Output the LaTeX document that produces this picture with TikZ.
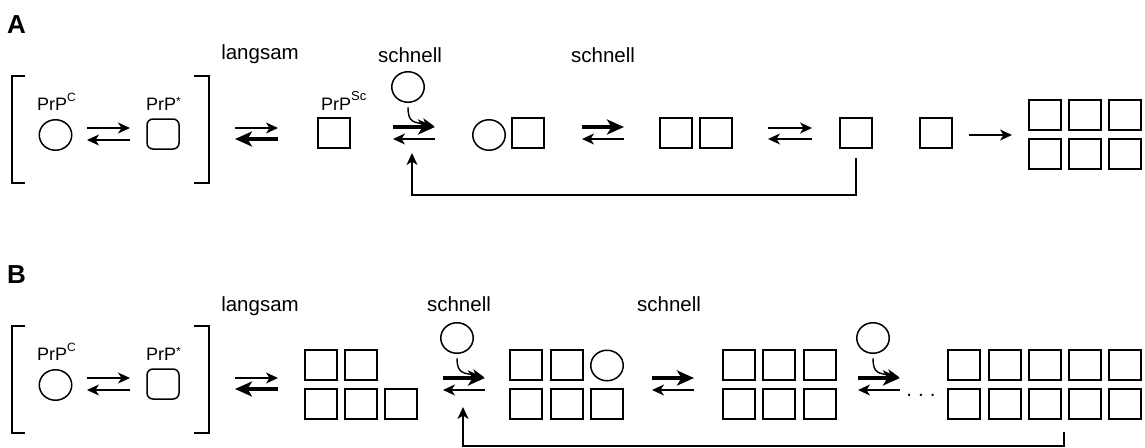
\documentclass[tikz,border=0pt]{standalone}
\usepackage{fontspec}
\setmainfont{Liberation Sans}
\usetikzlibrary{arrows.meta,shapes.geometric}

% raised small text for the PrP superscripts
\newcommand\raisedtxt[3]{\raisebox{#1}{\fontsize{#2}{#2}\selectfont #3}}

\tikzset{
  box/.style={draw, line width=1.8pt, minimum width=32pt, minimum height=30pt,
              inner sep=0pt, outer sep=0pt},
  rbox/.style={box, line width=1.5pt, rounded corners=6pt},
  ball/.style={draw, ellipse, line width=1.5pt, minimum width=32.5pt,
               minimum height=30.5pt, inner sep=0pt, outer sep=0pt},
  lbl/.style={font=\fontsize{20.5}{22}\selectfont, anchor=base, inner sep=0pt},
  prp/.style={font=\fontsize{18}{20}\selectfont, anchor=base west, inner sep=0pt},
  panel/.style={font=\fontsize{26}{28}\selectfont\bfseries, anchor=base west, inner sep=0pt},
  thinarr/.style={line width=1.4pt, -{Stealth[length=12pt,width=11pt,inset=3.5pt]}},
  thickarr/.style={line width=4pt, -{Stealth[length=17pt,width=15pt,inset=4.5pt]}},
  bracket/.style={line width=1.6pt},
  feed/.style={line width=1.5pt, -{Stealth[length=12pt,width=11pt,inset=3.5pt]}},
}

\begin{document}
\begin{tikzpicture}[x=1pt,y=-1pt]
\useasboundingbox (0,0) rectangle (1145,447);

% ---------------- Panel A ----------------
\node[panel] (labA) at (7,33) {A};

% bracketed pre-equilibrium PrP^C <-> PrP*
\draw[bracket] (25,76) -- (12,76) -- (12,183) -- (25,183);
\draw[bracket] (194,76) -- (209,76) -- (209,183) -- (194,183);
\node[prp] (tCA) at (37,110) {PrP\raisedtxt{9pt}{12}{C}};
\node[prp] (tSA) at (146,110) {PrP\raisedtxt{5pt}{12}{*}};
\node[ball] (pcA) at (55.5,135) {};
\node[rbox] (psA) at (163,134) {};
\coordinate (e1aL) at (87,128);  \coordinate (e1aR) at (130,128);
\coordinate (e1bL) at (87,140);  \coordinate (e1bR) at (130,140);
\draw[thinarr] (e1aL) -- (e1aR);
\draw[thinarr] (e1bR) -- (e1bL);

% slow step
\node[lbl] (slowA) at (260,59) {langsam};
\coordinate (e2aL) at (235,128); \coordinate (e2aR) at (278,128);
\coordinate (e2bL) at (235,139); \coordinate (e2bR) at (278,139);
\draw[thinarr] (e2aL) -- (e2aR);
\draw[thickarr] (e2bR) -- (e2bL);

% PrP^Sc seed
\node[prp] (tScA) at (321,110) {PrP\raisedtxt{9.5pt}{13}{Sc}};
\node[box] (scA) at (334,133) {};

% fast step with monomer addition
\node[lbl] (fast1A) at (410,62) {schnell};
\node[ball] (monA) at (408,87) {};
\coordinate (e3aL) at (393,127); \coordinate (e3aR) at (435,127);
\coordinate (e3bL) at (393,139); \coordinate (e3bR) at (435,139);
\draw[thickarr] (e3aL) -- (e3aR);
\draw[thinarr] (e3bR) -- (e3bL);
\coordinate (cvA) at (434,126);
\draw[thinarr] ([yshift=-5pt]monA.south) .. controls +(0,16) and (414,122) .. (cvA);

% monomer bound to seed
\node[ball] (dcA) at (489,135) {};
\node[box] (dsA) at (528,133) {};

\node[lbl] (fast2A) at (603,62) {schnell};
\coordinate (e4aL) at (582,127); \coordinate (e4aR) at (624,127);
\coordinate (e4bL) at (582,139); \coordinate (e4bR) at (624,139);
\draw[thickarr] (e4aL) -- (e4aR);
\draw[thinarr] (e4bR) -- (e4bL);

% dimer of PrP^Sc
\node[box] (d1A) at (676,133) {};
\node[box] (d2A) at (716,133) {};

\coordinate (e5aL) at (768,128); \coordinate (e5aR) at (812,128);
\coordinate (e5bL) at (768,139); \coordinate (e5bR) at (812,139);
\draw[thinarr] (e5aL) -- (e5aR);
\draw[thinarr] (e5bR) -- (e5bL);

\node[box] (m1A) at (856,133) {};
\node[box] (m2A) at (936,133) {};

% aggregation into a fibril
\foreach \c/\x in {1/1045,2/1085,3/1125}{
  \node[box] (gA-\c-1) at (\x,115) {};
  \node[box] (gA-\c-2) at (\x,154) {};
}
\coordinate (agS) at (969,135);
\coordinate (agE) at (1012,135);
\draw[thinarr] (agS) -- (agE);

% recycling of the released monomer
\coordinate (fbA) at (412,153);
\draw[feed] ([yshift=-10pt]m1A.south) |- (412,195) -- (fbA);

% ---------------- Panel B ----------------
\node[panel] (labB) at (7,283) {B};

\draw[bracket] (25,326) -- (12,326) -- (12,433) -- (25,433);
\draw[bracket] (194,326) -- (209,326) -- (209,433) -- (194,433);
\node[prp] (tCB) at (37,360) {PrP\raisedtxt{9pt}{12}{C}};
\node[prp] (tSB) at (146,360) {PrP\raisedtxt{5pt}{12}{*}};
\node[ball] (pcB) at (55.5,385) {};
\node[rbox] (psB) at (163,384) {};
\coordinate (f1aL) at (87,378);  \coordinate (f1aR) at (130,378);
\coordinate (f1bL) at (87,390);  \coordinate (f1bR) at (130,390);
\draw[thinarr] (f1aL) -- (f1aR);
\draw[thinarr] (f1bR) -- (f1bL);

\node[lbl] (slowB) at (260,311) {langsam};
\coordinate (f2aL) at (235,378); \coordinate (f2aR) at (278,378);
\coordinate (f2bL) at (235,389); \coordinate (f2bR) at (278,389);
\draw[thinarr] (f2aL) -- (f2aR);
\draw[thickarr] (f2bR) -- (f2bL);

% seed of five units
\node[box] (s11) at (321,365) {};
\node[box] (s21) at (361,365) {};
\node[box] (s12) at (321,404) {};
\node[box] (s22) at (361,404) {};
\node[box] (s32) at (401,404) {};

\node[lbl] (fast1B) at (459,311) {schnell};
\node[ball] (monB1) at (457,338) {};
\coordinate (f3aL) at (443,378); \coordinate (f3aR) at (485,378);
\coordinate (f3bL) at (443,390); \coordinate (f3bR) at (485,390);
\draw[thickarr] (f3aL) -- (f3aR);
\draw[thinarr] (f3bR) -- (f3bL);
\coordinate (cvB1) at (484,377);
\draw[thinarr] ([yshift=-5pt]monB1.south) .. controls +(0,16) and (464,373) .. (cvB1);

% seed with an attached monomer
\node[box] (t11) at (526,365) {};
\node[box] (t21) at (567,365) {};
\node[ball] (t31) at (607,365.5) {};
\node[box] (t12) at (526,404) {};
\node[box] (t22) at (567,404) {};
\node[box] (t32) at (607,404) {};

\node[lbl] (fast2B) at (669,311) {schnell};
\coordinate (f4aL) at (652,378); \coordinate (f4aR) at (694,378);
\coordinate (f4bL) at (652,390); \coordinate (f4bR) at (694,390);
\draw[thickarr] (f4aL) -- (f4aR);
\draw[thinarr] (f4bR) -- (f4bL);

\foreach \c/\x in {1/739,2/779,3/820}{
  \node[box] (u\c1) at (\x,365) {};
  \node[box] (u\c2) at (\x,404) {};
}

\node[ball] (monB2) at (873,338) {};
\coordinate (f5aL) at (858,378); \coordinate (f5aR) at (900,378);
\coordinate (f5bL) at (858,390); \coordinate (f5bR) at (900,390);
\draw[thickarr] (f5aL) -- (f5aR);
\draw[thinarr] (f5bR) -- (f5bL);
\coordinate (cvB2) at (899,377);
\draw[thinarr] ([yshift=-5pt]monB2.south) .. controls +(0,16) and (879,373) .. (cvB2);

\node[lbl] (dotsB) at (921,396) {.\hspace{6pt}.\hspace{6pt}.};

% grown fibril
\foreach \c/\x in {1/964,2/1005,3/1045,4/1085,5/1125}{
  \node[box] (v\c1) at (\x,365) {};
  \node[box] (v\c2) at (\x,404) {};
}

% recycling of fragments
\coordinate (fbBs) at (1064,432);
\coordinate (fbB) at (463,407);
\draw[feed] (fbBs) |- (463,446) -- (fbB);
\end{tikzpicture}
\end{document}
